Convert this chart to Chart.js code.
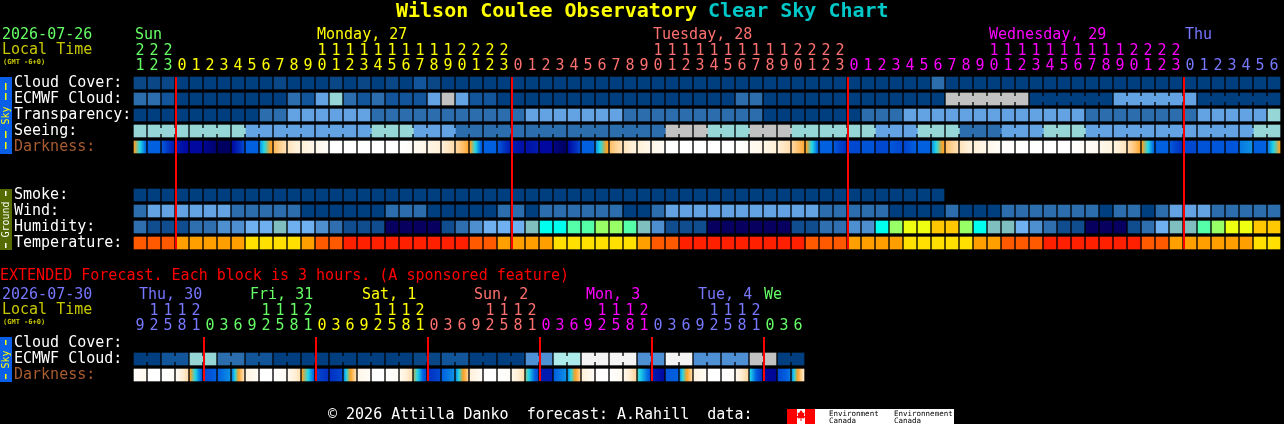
<!DOCTYPE html>
<html>
<head>
<meta charset="utf-8">
<title>Wilson Coulee Observatory Clear Sky Chart</title>
<script src="https://cdn.jsdelivr.net/npm/chart.js@4"></script>
<style>
  html, body { margin: 0; background: #000; overflow: hidden; }
  canvas { position: absolute; left: 0; top: 0; }
</style>
</head>
<body>
<canvas id="hourly" width="1284" height="424"></canvas>
<canvas id="extended" width="1284" height="424"></canvas>
<script>
// hourly forecast, one entry per hour
const hours = [21,22,23,
  0,1,2,3,4,5,6,7,8,9,10,11,12,13,14,15,16,17,18,19,20,21,22,23,
  0,1,2,3,4,5,6,7,8,9,10,11,12,13,14,15,16,17,18,19,20,21,22,23,
  0,1,2,3,4,5,6,7,8,9,10,11,12,13,14,15,16,17,18,19,20,21,22,23,
  0,1,2,3,4,5,6];
const hourDays = [0,0,0,
  1,1,1,1,1,1,1,1,1,1,1,1,1,1,1,1,1,1,1,1,1,1,1,1,
  2,2,2,2,2,2,2,2,2,2,2,2,2,2,2,2,2,2,2,2,2,2,2,2,
  3,3,3,3,3,3,3,3,3,3,3,3,3,3,3,3,3,3,3,3,3,3,3,3,
  4,4,4,4,4,4,4];
const hourlyRows = ["Cloud Cover:", "ECMWF Cloud:", "Transparency:", "Seeing:", "Darkness:", "", "", "Smoke:", "Wind:", "Humidity:", "Temperature:"];

// levels index into the palettes below
const cloudCover = [1,1,1,0,0,0,0,0,0,0,1,0,0,0,1,0,1,0,1,0,2,1,0,0,0,0,0,0,0,0,0,0,0,0,0,0,0,0,0,0,0,0,0,0,0,0,0,0,0,0,0,0,0,0,0,0,0,3,0,0,0,0,0,0,0,0,0,0,0,0,0,0,0,0,0,0,0,0,0,0,0,0];
const ecmwfCloud = [3,3,2,0,0,0,0,0,0,0,0,3,2,5,6,3,2,3,2,2,2,5,8,5,2,2,0,0,0,0,0,0,0,0,0,0,0,0,0,0,0,0,0,3,3,0,0,0,0,0,0,0,0,0,0,0,0,0,8,8,8,8,8,8,0,0,0,0,0,0,5,5,5,5,5,5,0,0,0,0,0,0];
const transparency = [0,0,0,0,0,0,0,0,0,3,3,5,5,5,5,5,5,3,3,3,3,3,3,3,3,3,3,3,5,5,5,5,5,5,5,3,3,3,3,3,3,3,3,3,3,0,0,0,0,0,0,0,3,3,3,5,5,5,5,5,5,5,5,5,5,5,5,5,3,3,3,3,3,3,3,3,5,5,5,5,5,6];
const seeing = [6,6,6,6,6,6,6,6,5,5,5,5,5,5,5,5,5,6,6,6,5,5,5,3,3,3,3,3,3,3,3,3,3,3,3,3,3,3,8,8,8,6,6,6,8,8,8,6,6,6,6,6,6,5,5,5,6,6,6,3,3,3,5,5,5,6,6,6,5,5,5,5,5,5,5,5,5,5,5,5,6,6];
const darknessStart = [3,5,5.2,6.5,7,7.2,8,7,5,4.6,2.5,1.4,1,.5,0,0,0,0,0,0,.3,.6,1,1.8,3,5,5.2,6.5,6.8,7,7.5,7,5,4.6,2.4,1.4,1,.6,0,0,0,0,0,0,.3,.6,1,1.8,3,5,5.2,5.5,5.3,5.5,5.2,5.6,5,4.6,2.4,1.4,1,.5,.1,0,0,0,0,0,.2,.5,.8,1.6,3,5,5.2,5.5,5.3,5.2,5.2,4.8,5,4.8];
const darknessEnd = [5,5,6.5,7,7,7.8,8,5.5,5,2.8,1.5,.8,.5,.2,0,0,0,0,0,.2,.6,1,1.6,2.8,5.2,5,6.5,6.8,6.5,7,8,5.5,5,2.8,1.5,.8,.5,.2,0,0,0,0,0,.2,.6,1,1.6,2.8,5,5,6,5.5,5.3,5.5,5.5,5,5,2.8,1.5,.8,.5,.2,0,0,0,0,0,.2,.4,.8,1.4,2.8,5,5,6,5.5,5.3,5.2,5.2,4.6,5,3];
const smoke = [0,0,0,0,0,0,0,0,0,0,0,0,0,0,0,0,0,0,0,0,0,0,0,0,0,0,0,0,0,0,0,0,0,0,0,0,0,0,0,0,0,0,0,0,0,0,0,0,0,0,0,0,0,0,0,0,0,0];
const wind = [3,5,5,5,5,5,5,3,3,3,3,3,0,0,0,0,0,0,3,3,3,0,0,0,0,0,3,3,0,3,3,3,3,3,3,0,0,3,5,5,5,5,5,5,5,5,5,5,5,3,3,3,3,3,0,0,0,0,3,0,0,0,3,3,3,3,3,3,3,0,3,3,0,3,5,5,5,3,3,3,3,3];
const humidity = [2,1,1,1,2,2,3,3,4,4,5,4,4,3,2,1,1,1,0,0,0,0,1,2,3,4,4,4,5,6,6,7,7,8,8,7,5,3,1,1,1,0,0,0,0,0,0,1,1,2,2,3,3,6,8,9,9,10,10,8,6,5,5,4,3,2,1,1,0,0,0,1,2,4,5,5,7,8,9,9,10,10];
const temperature = [1,1,1,2,2,2,2,2,3,3,3,3,2,1,1,0,0,0,0,0,0,0,0,0,1,1,2,2,2,2,3,3,3,3,3,3,2,1,1,0,0,0,0,0,0,0,0,0,1,1,1,2,2,2,2,3,3,3,3,3,2,2,1,1,1,0,0,0,0,0,0,0,1,1,2,2,2,2,2,2,3,3];

// extended forecast, one entry per 3 hours
const extHours = [9,12,15,18,21,0,3,6,9,12,15,18,21,0,3,6,9,12,15,18,21,0,3,6,9,12,15,18,21,0,3,6,9,12,15,18,21,0,3,6,9,12,15,18,21,0,3,6];
const extDays = [0,0,0,0,0,1,1,1,1,1,1,1,1,2,2,2,2,2,2,2,2,3,3,3,3,3,3,3,3,4,4,4,4,4,4,4,4,5,5,5,5,5,5,5,5,6,6,6];
const extRows = ["Cloud Cover:", "ECMWF Cloud:", "Darkness:"];
const extCloud = [0,0,2,2,6,6,3,3,2,2,0,0,0,0,0,0,0,0,0,0,1,1,2,2,0,0,0,0,4,4,7,7,9,9,9,9,4,4,9,9,4,4,4,4,8,8,0,0];
const extDarkStart = [.1,0,0,.3,3,5.5,5,4.8,.8,0,0,.4,3,5.5,6,4.6,.6,0,0,.4,3.4,6,5,4.6,1,0,0,.5,3.6,6.5,5,4.6,1,0,0,.5,3.8,6.5,5.2,4.6,.8,0,0,.5,4,7,5.5,4.6];
const extDarkEnd = [.4,0,.2,1.6,5.2,5,4.6,1.5,.2,0,.3,1.5,5,6,5.5,1.6,.2,0,.2,1.6,5.5,5.5,4.6,2,.2,0,.2,1.6,5.5,6.5,4.6,2,.2,0,.4,1.8,5.2,7,5,1.8,.2,0,.2,1.8,6,7.2,4.8,1.2];

const skyPalette = ["#003f7f", "#0a4787", "#13559a", "#2c6ead", "#4f90d4", "#63a3e4", "#97d6d6", "#aeecec", "#c2c2c2", "#f4f4f4"];
const humidityPalette = ["#08005f", "#0f4d8f", "#2f6fb0", "#4e8fd0", "#6fb0f0", "#80bfbf", "#00ffee", "#55ffaa", "#99ff66", "#eeff11", "#ffc800"];
const tempPalette = ["#ff2000", "#ff5a00", "#ff9f00", "#ffe000"];
// darkness ramp, daylight first; position in the array is the darkness value
const darkRamp = ["#ffffff", "#fff0d8", "#ffd090", "#ffa020", "#20d8e8", "#0060e0", "#0030c0", "#0008a0", "#000060"];

const dayColors = ["#66ff66", "#ffff00", "#ff7070", "#ff00ff", "#7777ff"];
const extColors = ["#7777ff", "#66ff66", "#ffff00", "#ff7070", "#ff00ff", "#7777ff", "#66ff66"];

const FONT = '"DejaVu Sans Mono", monospace';

function hexToRgb(hex) {
  return [1, 3, 5].map((i) => parseInt(hex.slice(i, i + 2), 16));
}

function rampColor(value) {
  // the interpolation can land a hair below zero
  const v = Math.max(0, value);
  const lo = Math.min(Math.floor(v), darkRamp.length - 2);
  const f = v - lo;
  const a = hexToRgb(darkRamp[lo]);
  const b = hexToRgb(darkRamp[lo + 1]);
  const rgb = a.map((c, i) => Math.round(c + (b[i] - c) * f));
  return `rgb(${rgb.join(",")})`;
}

function darkGradient(ctx, startVals, endVals) {
  const { chart, dataIndex } = ctx;
  const a = startVals[dataIndex];
  const b = endVals[dataIndex];
  // options also get resolved at dataset level, before there is an element
  if (a === undefined || b === undefined) return "#000000";
  const mid = chart.scales.x.getPixelForValue(dataIndex);
  if (!Number.isFinite(mid)) return rampColor(a);
  const grad = chart.ctx.createLinearGradient(mid - 6, 0, mid + 6, 0);
  for (let i = 0; i <= 12; i++) {
    grad.addColorStop(i / 12, rampColor(a + ((b - a) * i) / 12));
  }
  return grad;
}

function rowDataset(row, colorFor, length, joinAfter) {
  return {
    data: Array.from({ length }, () => [row + 0.125, row + 0.875]),
    backgroundColor: colorFor,
    hoverBackgroundColor: colorFor,
    joinAfter,
    grouped: false,
    barThickness: 12,
    borderWidth: 0,
  };
}

function levelRow(row, values, palette, joinAfter) {
  return rowDataset(row, (ctx) => palette[values[ctx.dataIndex]] || "#000000", values.length, joinAfter);
}

// seeing comes in 3 hour blocks, joined by a narrow bridge over the gap
const seeingJoin = (i) => (i + 1) % 3 !== 1;
const ecmwfJoin = (i) => i >= 58 && (i - 58) % 6 !== 5;
const extJoin = (i) => i % 2 === 0;

const bridgePlugin = {
  id: "bridge",
  beforeDatasetsDraw(chart) {
    const { ctx } = chart;
    chart.data.datasets.forEach((ds, d) => {
      if (!ds.joinAfter) return;
      const bars = chart.getDatasetMeta(d).data;
      bars.forEach((bar, i) => {
        if (i === bars.length - 1 || !ds.joinAfter(i)) return;
        const mid = (bar.y + bar.base) / 2;
        ctx.fillStyle = bar.options.backgroundColor;
        ctx.fillRect(bar.x + 6, mid - 3, 2, 6);
      });
    });
  },
};

const midnightPlugin = {
  id: "midnight",
  afterDatasetsDraw(chart, args, opts) {
    const { ctx, chartArea, scales } = chart;
    ctx.fillStyle = "#ff0000";
    opts.hours.forEach((h, i) => {
      if (h !== 0) return;
      const x = scales.x.getPixelForValue(i) - 6;
      ctx.fillRect(x - 1, chartArea.top + 2, 2, chartArea.bottom - chartArea.top - 4);
    });
  },
};

function text(ctx, str, x, y, color, font) {
  ctx.font = font;
  ctx.fillStyle = color;
  ctx.fillText(str, x, y);
}

function sideBar(ctx, top, bottom, color, inkColor, label, dashes) {
  ctx.fillStyle = color;
  ctx.fillRect(0, top, 12, bottom - top);
  ctx.fillStyle = inkColor;
  dashes.forEach(([a, b]) => ctx.fillRect(5, a, 1.5, b - a));
  ctx.save();
  ctx.translate(6, (top + bottom) / 2);
  ctx.rotate(-Math.PI / 2);
  ctx.textAlign = "center";
  ctx.textBaseline = "middle";
  ctx.font = `10px ${FONT}`;
  ctx.fillText(label, 0, 0);
  ctx.restore();
}

const pageTextPlugin = {
  id: "pageText",
  afterDraw(chart) {
    const { ctx } = chart;
    ctx.save();
    ctx.textBaseline = "middle";
    ctx.textAlign = "left";
    const body = `15px ${FONT}`;
    const small = `bold 7px ${FONT}`;
    const titleFont = `bold 20px ${FONT}`;

    text(ctx, "Wilson Coulee Observatory", 396, 12, "#ffff00", titleFont);
    text(ctx, "Clear Sky Chart", 708, 12, "#00c8c8", titleFont);

    text(ctx, "2026-07-26", 2, 35, "#66ff66", body);
    text(ctx, "Local Time", 2, 50, "#c8c800", body);
    text(ctx, "(GMT -6+0)", 3, 62, "#c8c800", small);
    text(ctx, "Sun", 135, 35, dayColors[0], body);
    text(ctx, "Monday, 27", 317, 35, dayColors[1], body);
    text(ctx, "Tuesday, 28", 653, 35, dayColors[2], body);
    text(ctx, "Wednesday, 29", 989, 35, dayColors[3], body);
    text(ctx, "Thu", 1185, 35, dayColors[4], body);

    sideBar(ctx, 77, 154, "#0a5fe8", "#ffff00", "Sky", [[83, 90], [93, 100], [131, 138], [142, 149]]);
    sideBar(ctx, 189, 250, "#556b00", "#ffffff", "Ground", [[191, 196], [243, 248]]);

    text(ctx, "EXTENDED Forecast. Each block is 3 hours. (A sponsored feature)", 0, 276, "#ff0000", body);
    text(ctx, "2026-07-30", 2, 295, "#7777ff", body);
    text(ctx, "Local Time", 2, 310, "#c8c800", body);
    text(ctx, "(GMT -6+0)", 3, 322, "#c8c800", small);
    text(ctx, "Thu, 30", 139, 295, extColors[0], body);
    text(ctx, "Fri, 31", 250, 295, extColors[1], body);
    text(ctx, "Sat, 1", 362, 295, extColors[2], body);
    text(ctx, "Sun, 2", 474, 295, extColors[3], body);
    text(ctx, "Mon, 3", 586, 295, extColors[4], body);
    text(ctx, "Tue, 4", 698, 295, extColors[5], body);
    text(ctx, "We", 764, 295, extColors[6], body);
    sideBar(ctx, 337, 382, "#0a5fe8", "#ffff00", "Sky", [[340, 345], [374, 379]]);

    text(ctx, "© 2026 Attilla Danko  forecast: A.Rahill  data:", 328, 415, "#ffffff", body);

    // Environment Canada logo
    ctx.fillStyle = "#ffffff";
    ctx.fillRect(787, 409, 167, 15);
    ctx.fillStyle = "#ff0000";
    ctx.fillRect(787, 409, 10, 15);
    ctx.fillRect(805, 409, 10, 15);
    ctx.beginPath();
    [[801, 410], [803, 413], [804.5, 412.5], [804, 416], [805.5, 416], [804, 418.5], [801.5, 418], [801.5, 421], [800.5, 421], [800.5, 418], [798, 418.5], [796.5, 416], [798, 416], [797.5, 412.5], [799, 413]]
      .forEach(([x, y], i) => (i ? ctx.lineTo(x, y) : ctx.moveTo(x, y)));
    ctx.closePath();
    ctx.fill();
    const logoFont = `7.5px ${FONT}`;
    text(ctx, "Environment", 829, 414, "#000000", logoFont);
    text(ctx, "Canada", 829, 421, "#000000", logoFont);
    text(ctx, "Environnement", 894, 414, "#000000", logoFont);
    text(ctx, "Canada", 894, 421, "#000000", logoFont);
    ctx.restore();
  },
};

function hourTick(value) {
  const h = this.getLabelForValue(value);
  return h.length > 1 ? [h[0], h[1]] : [" ", h];
}

function buildOptions(rows, colors, days, hourList, padding, xHeight) {
  return {
    responsive: false,
    animation: false,
    devicePixelRatio: 1,
    events: [],
    layout: { padding },
    plugins: {
      legend: { display: false },
      tooltip: { enabled: false },
      midnight: { hours: hourList },
    },
    scales: {
      x: {
        type: "category",
        position: "top",
        offset: true,
        grid: { display: false },
        border: { display: false },
        afterFit: (scale) => { scale.height = xHeight; },
        ticks: {
          autoSkip: false,
          maxRotation: 0,
          padding: -7,
          callback: hourTick,
          color: (ctx) => colors[days[ctx.index]],
          font: { family: FONT, size: 15, lineHeight: "15px" },
        },
      },
      y: {
        type: "linear",
        reverse: true,
        min: 0,
        max: rows.length,
        grid: { display: false },
        border: { display: false },
        afterFit: (scale) => { scale.width = 119; },
        afterBuildTicks: (scale) => {
          scale.ticks = rows.map((_, i) => ({ value: i + 0.5 }));
        },
        ticks: {
          crossAlign: "far",
          autoSkip: false,
          padding: 0,
          callback: (value) => rows[Math.floor(value)],
          color: (ctx) => (rows[ctx.index] === "Darkness:" ? "#a85c30" : "#ffffff"),
          font: { family: FONT, size: 15 },
        },
      },
    },
  };
}

new Chart(document.getElementById("hourly"), {
  type: "bar",
  data: {
    labels: hours.map(String),
    datasets: [
      levelRow(0, cloudCover, skyPalette),
      levelRow(1, ecmwfCloud, skyPalette, ecmwfJoin),
      levelRow(2, transparency, skyPalette),
      levelRow(3, seeing, skyPalette, seeingJoin),
      rowDataset(4, (ctx) => darkGradient(ctx, darknessStart, darknessEnd), darknessStart.length),
      levelRow(7, smoke, skyPalette),
      levelRow(8, wind, skyPalette),
      levelRow(9, humidity, humidityPalette),
      levelRow(10, temperature, tempPalette),
    ],
  },
  options: buildOptions(hourlyRows, dayColors, hourDays, hours,
    { left: 14, right: 3, top: 0, bottom: 173 }, 75),
  plugins: [bridgePlugin, midnightPlugin],
});

new Chart(document.getElementById("extended"), {
  type: "bar",
  data: {
    labels: extHours.map(String),
    datasets: [
      levelRow(1, extCloud, skyPalette, extJoin),
      rowDataset(2, (ctx) => darkGradient(ctx, extDarkStart, extDarkEnd), extDarkStart.length),
    ],
  },
  options: buildOptions(extRows, extColors, extDays, extHours,
    { left: 14, right: 479, top: 300, bottom: 41 }, 35),
  plugins: [bridgePlugin, midnightPlugin, pageTextPlugin],
});
</script>
</body>
</html>
